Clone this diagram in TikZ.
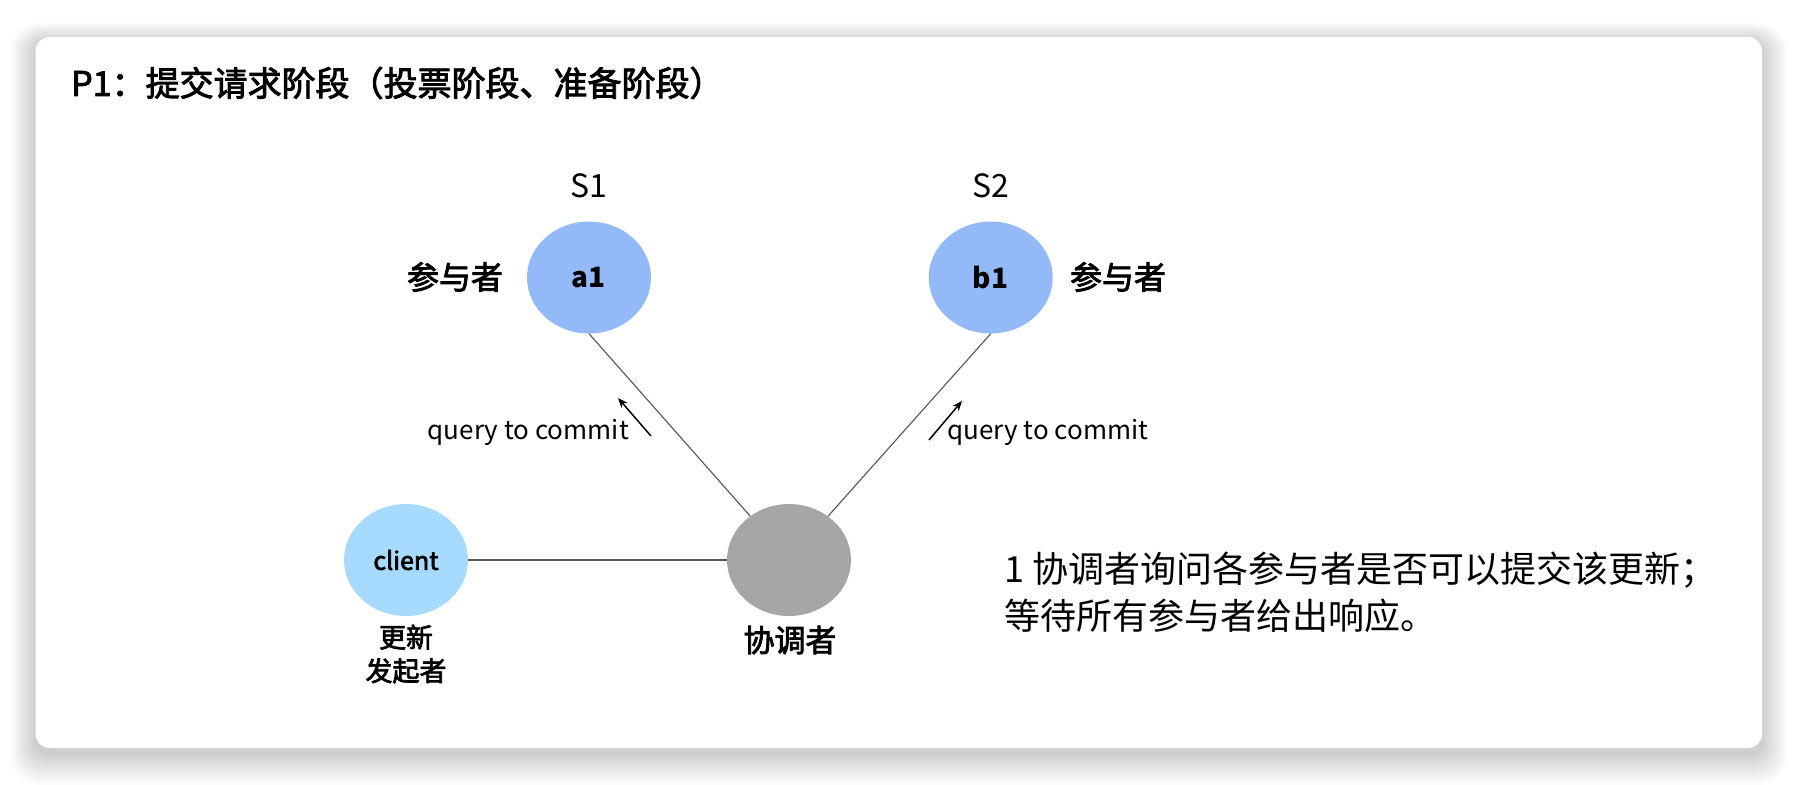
\documentclass[tikz,border=0pt]{standalone}
\usepackage{fontspec}
\setmainfont{Noto Sans CJK SC}
\newfontfamily\medfont{Noto Sans CJK SC}[BoldFont={Noto Sans CJK SC},BoldFeatures={FakeBold=2.6}]
\usetikzlibrary{shapes.geometric,arrows.meta}
\definecolor{partblue}{HTML}{94B9F9}
\definecolor{clientblue}{HTML}{A6DBFF}
\definecolor{coordgray}{HTML}{A6A6A6}
\definecolor{linegray}{HTML}{555555}
\tikzset{
  participant/.style={ellipse,fill=partblue,minimum width=124pt,minimum height=112pt,inner sep=0pt,font=\fontsize{28}{32}\selectfont\bfseries},
  clientnode/.style={ellipse,fill=clientblue,minimum width=124pt,minimum height=112pt,inner sep=0pt,font=\fontsize{25}{30}\medfont\bfseries},
  coordnode/.style={ellipse,fill=coordgray,minimum width=124pt,minimum height=112pt,inner sep=0pt},
  link/.style={draw=linegray,line width=1.1pt},
  qarrow/.style={draw=black,line width=1.5pt,-{Stealth[length=10pt,width=8pt]}},
  lbl/.style={inner sep=0pt,text=black},
  card/.style={fill=white,rounded corners=14pt,draw=none}
}
\begin{document}
\begin{tikzpicture}[x=1pt,y=-1pt]
\useasboundingbox (0,0) rectangle (1798,784);
\fill[white] (0,0) rectangle (1798,784);
% soft shadow
\foreach \i in {1,...,16}{
  \fill[black,opacity=0.012,rounded corners=14pt+\i pt]
    (35.5-1.6*\i,37-1.2*\i+5) rectangle (1762+1.6*\i,748+2.0*\i+5);
}
% card
\path[card] (35.5,37) rectangle (1762,748);
% title
\node[lbl,anchor=west,font=\fontsize{34}{40}\medfont\bfseries] (title) at (71,83) {P1：提交请求阶段（投票阶段、准备阶段）};
% nodes
\node[participant] (a1) at (589,277.5) {a1};
\node[participant] (b1) at (990.7,277.5) {b1};
\node[clientnode] (client) at (406,560) {client};
\node[coordnode] (co) at (789,560) {};
% labels
\node[lbl,font=\fontsize{32}{36}\selectfont] (s1) at (589,186) {S1};
\node[lbl,font=\fontsize{32}{36}\selectfont] (s2) at (990.7,186) {S2};
\node[lbl,font=\fontsize{32}{36}\medfont\bfseries] (pa) at (455,277) {参与者};
\node[lbl,font=\fontsize{32}{36}\medfont\bfseries] (pb) at (1118,277) {参与者};
\node[lbl,font=\fontsize{31}{36}\medfont\bfseries] (colbl) at (790,640) {协调者};
\node[lbl,font=\fontsize{27}{33.5}\medfont\bfseries,align=center] (clbl) at (406,654) {更新\\发起者};
% connectors
\draw[link] (client) -- (co);
\draw[link] (a1.south) -- (co);
\draw[link] (b1.south) -- (co);
% query arrows
\coordinate (qa1) at (651,436);
\coordinate (qa2) at (618,398);
\coordinate (qb1) at (929,440);
\coordinate (qb2) at (962,401);
\draw[qarrow] (qa1) -- (qa2);
\draw[qarrow] (qb1) -- (qb2);
\node[lbl,anchor=east,font=\fontsize{26}{30}\medfont] (qla) at (629,432) {query to commit};
\node[lbl,anchor=west,font=\fontsize{26}{30}\medfont] (qlb) at (947,432) {query to commit};
% description
\node[lbl,anchor=west,font=\fontsize{36}{46}\selectfont] (d1) at (1004,570) {1 协调者询问各参与者是否可以提交该更新；};
\node[lbl,anchor=west,font=\fontsize{36}{46}\selectfont] (d2) at (1004,616) {等待所有参与者给出响应。};
\end{tikzpicture}
\end{document}
